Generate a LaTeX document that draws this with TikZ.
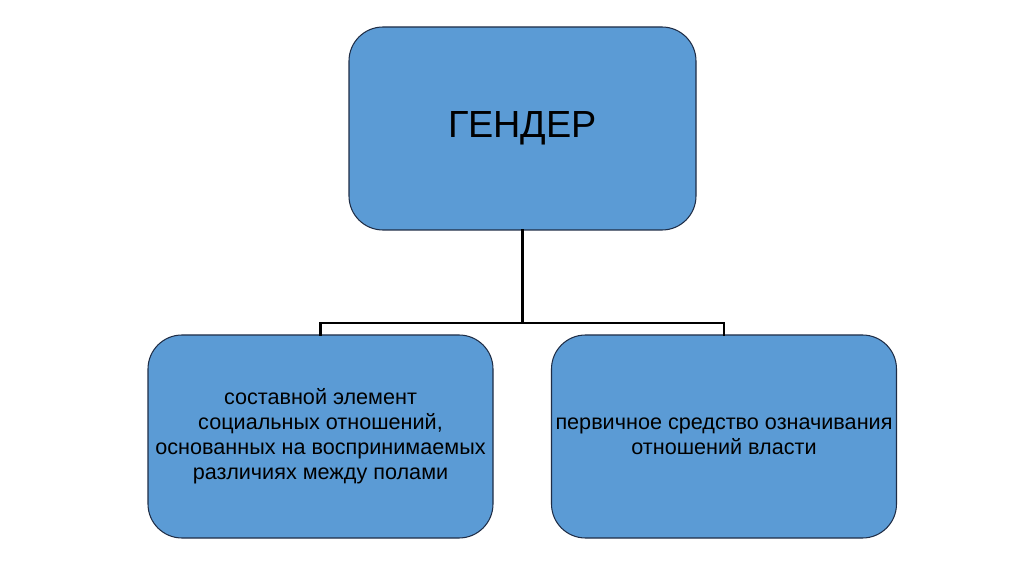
\documentclass[tikz,border=0pt]{standalone}
\usepackage{fontspec}
\setmainfont{Liberation Sans}
\usepackage{tikz}
\usetikzlibrary{positioning}
\usepackage{xcolor}
\definecolor{boxblue}{RGB}{91,155,213}
\definecolor{boxedge}{RGB}{31,45,70}

\begin{document}
\begin{tikzpicture}[line cap=round,
  box/.style={draw=boxedge,line width=0.6pt,fill=boxblue,rounded corners=0.68cm,
    align=center,inner sep=2pt},
  bigbox/.style={box,minimum width=6.94cm,minimum height=4.06cm,font=\fontsize{21.5}{26}\selectfont},
  smallbox/.style={box,minimum width=6.9cm,minimum height=4.06cm,font=\fontsize{12.3}{14.2}\selectfont},
  bus/.style={line width=1.3pt,line cap=rect}]
\useasboundingbox (0,0) rectangle (20.48,11.48);
\node[bigbox] (gender) at (10.45,8.91) {ГЕНДЕР};
\node[smallbox] (social) at (6.41,2.75) {составной элемент\\социальных отношений,\\основанных на воспринимаемых\\различиях между полами};
\node[smallbox] (power) at (14.48,2.75) {первичное средство означивания\\отношений власти};
\coordinate (fork) at (10.45,5.02);
\draw[bus] (gender.south) -- (fork);
\draw[bus] (social.north) |- (fork) -| (power.north);
\end{tikzpicture}
\end{document}
